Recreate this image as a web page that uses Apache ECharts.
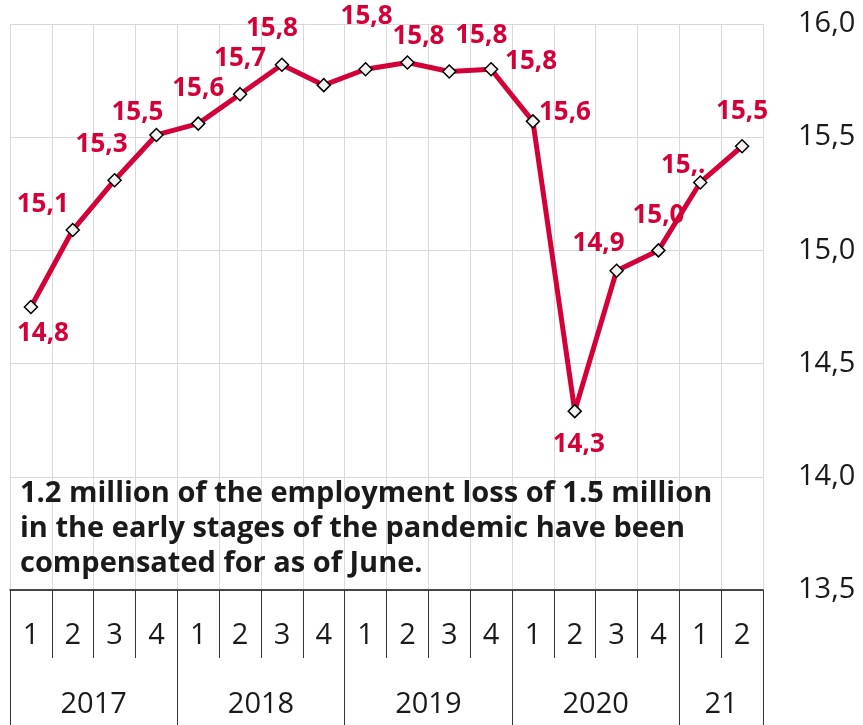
<!DOCTYPE html>
<html>
<head>
<meta charset="utf-8">
<style>
  html, body { margin: 0; padding: 0; background: #fff; }
  #chart { width: 863px; height: 725px; }
</style>
<script src="https://cdn.jsdelivr.net/npm/echarts@6/dist/echarts.min.js"></script>
</head>
<body>
<div id="chart"></div>
<script>
// quarters 2017 Q1 .. 2021 Q2
var quarters = ['1', '2', '3', '4', '1', '2', '3', '4', '1', '2', '3', '4', '1', '2', '3', '4', '1', '2'];
var years = ['2017', '2018', '2019', '2020', '21'];
var quartersPerYear = [4, 4, 4, 4, 2];
// employed persons, millions
var employed = [14.75, 15.09, 15.31, 15.51, 15.56, 15.69, 15.82, 15.73, 15.80, 15.83,
  15.79, 15.80, 15.57, 14.29, 14.91, 15.00, 15.30, 15.46];
// label offsets [dx, dy] from each point, null = no label
var labelOffsets = [[12, 27], [-30, -25], [-13, -36], [-19, -22], [0, -35], [0, -36], [-10, -36], null,
  [1, -53], [11, -26], [32, -36], [40, -8], [32, -9], [4, 33], [-18, -27], [0, -35], [-17, -17], [0, -35]];
var yTicks = [13.5, 14.0, 14.5, 15.0, 15.5, 16.0];

var red = '#d40038';
var fmt = function (v) { return v.toFixed(1).replace('.', ','); };

// year row: half-quarter positions, so year labels sit in the middle of their span
var yearSlots = [];
var yearTickIdx = [0];
var pos = 0;
for (var i = 0; i < 2 * quarters.length + 1; i++) yearSlots.push('');
years.forEach(function (y, k) {
  yearSlots[pos + quartersPerYear[k]] = y;
  pos += quartersPerYear[k] * 2;
  yearTickIdx.push(pos);
});

var labelData = employed.map(function (v, i) {
  var off = labelOffsets[i];
  if (!off) return { value: v, label: { show: false } };
  var item = { value: v, label: { show: true, offset: off } };
  if (i === 16) {
    // cut off in the original
    item.label.width = 50;
    item.label.overflow = 'truncate';
    item.label.ellipsis = '.';
  }
  return item;
});

var chart = echarts.init(document.getElementById('chart'));
chart.setOption({
  animation: false,
  textStyle: { fontFamily: 'Open Sans' },
  grid: { left: 10, right: 100, top: 24, bottom: 135 },
  xAxis: [{
    type: 'category',
    data: quarters,
    boundaryGap: true,
    axisLine: { lineStyle: { color: '#111', width: 1.5 } },
    axisTick: { show: true, interval: 0, length: 68, lineStyle: { color: '#333' } },
    axisLabel: { interval: 0, margin: 31, fontSize: 29, color: '#1a1a1a' },
    splitLine: { show: true, interval: 0, lineStyle: { color: '#d9d9d9', width: 1 } }
  }, {
    type: 'category',
    data: yearSlots,
    boundaryGap: false,
    position: 'bottom',
    axisLine: { show: false },
    axisTick: {
      show: true, length: 135, lineStyle: { color: '#333' },
      interval: function (idx) { return yearTickIdx.indexOf(idx) >= 0; }
    },
    axisLabel: {
      fontSize: 29, color: '#1a1a1a', margin: 100,
      interval: function (idx, val) { return val !== ''; }
    },
    splitLine: { show: false }
  }],
  yAxis: {
    type: 'value',
    position: 'right',
    min: yTicks[0],
    max: yTicks[yTicks.length - 1],
    interval: 0.5,
    axisLine: { show: false },
    axisTick: { show: false },
    axisLabel: { margin: 35, fontSize: 29, color: '#1a1a1a', formatter: fmt },
    splitLine: { lineStyle: { color: '#d9d9d9', width: 1 } }
  },
  series: [{
    type: 'scatter',
    z: 1,
    symbolSize: 0,
    data: labelData,
    itemStyle: { opacity: 1 },
    label: {
      position: 'inside',
      color: red,
      fontSize: 26,
      fontWeight: 'bold',
      formatter: function (p) { return fmt(p.value); }
    },
    silent: true
  }, {
    type: 'line',
    z: 3,
    data: employed,
    symbol: 'diamond',
    symbolSize: 13,
    showAllSymbol: true,
    lineStyle: { color: red, width: 5 },
    itemStyle: { color: '#f2f2f2', borderColor: '#000', borderWidth: 1.5 },
    label: { show: false }
  }],
  graphic: [{
    type: 'text',
    left: 20,
    top: 476,
    z: 10,
    style: {
      text: '1.2 million of the employment loss of 1.5 million\nin the early stages of the pandemic have been\ncompensated for as of June.',
      fontFamily: 'Open Sans',
      fontSize: 29,
      fontWeight: 'bold',
      lineHeight: 35,
      fill: '#1a1a1a'
    }
  }]
});
</script>
</body>
</html>
